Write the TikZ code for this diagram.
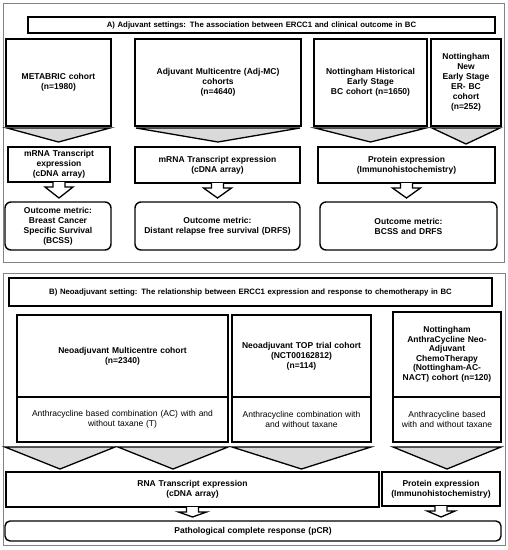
\documentclass[tikz,border=0pt]{standalone}
\usepackage{fontspec}
\setmainfont{Liberation Sans}
\usetikzlibrary{calc}
\definecolor{chevgray}{RGB}{218,218,218}
\definecolor{framegray}{RGB}{130,130,130}
\tikzset{
  box/.style={draw=black, line width=1.4pt, align=center, inner sep=1pt, outer sep=0pt,
    font=\fontsize{8.5}{10}\selectfont\bfseries},
  plain/.style={font=\fontsize{8.5}{10.5}\selectfont},
  titlefont/.style={font=\fontsize{7.8}{9}\selectfont\bfseries},
  rbox/.style={rounded corners=6pt},
  frame/.style={draw=framegray, line width=1pt},
  chev/.style={draw=black, fill=chevgray, line width=1.3pt, line join=miter},
  barrow/.style={draw=black, fill=white, line width=1.3pt, line join=miter}
}
\newcommand\bx[7][]{%
  \pgfmathsetmacro\bxcx{(#3+#5)/2}%
  \pgfmathsetmacro\bxcy{(#4+#6)/2}%
  \pgfmathsetmacro\bxw{#5-#3}%
  \pgfmathsetmacro\bxh{#6-#4}%
  \pgfmathsetmacro\bxtw{#5-#3-4}%
  \node[box,minimum width=\bxw pt,minimum height=\bxh pt,text width=\bxtw pt,#1] (#2) at (\bxcx,\bxcy) {#7};}
% chevron under node #2, tip pointing to node #3
\newcommand\chevron[3][5pt]{%
  \draw[chev] let \p1=(#2.south west), \p2=(#2.south east), \p3=(#3.north) in
    (\x1+1pt,\y1-2pt) -- (\x2-1pt,\y1-2pt) -- ({(\x1+\x2)/2},\y3+#1) -- cycle;}
% block arrow from node #1 to node #2
\newcommand\blockarrow[2]{%
  \draw[barrow] let \p1=(#1.south), \p2=(#2.north) in
    (\x1-6pt,\y1) -- (\x1-6pt,\y1-5pt) -- (\x1-14pt,\y1-5pt) -- (\x1,\y2+4pt)
      -- (\x1+14pt,\y1-5pt) -- (\x1+6pt,\y1-5pt) -- (\x1+6pt,\y1);}
\begin{document}
\begin{tikzpicture}[x=1pt,y=-1pt]
\useasboundingbox (0,0) rectangle (508,550);
% ---------- Section A ----------
\node[frame, minimum width=501pt, minimum height=259pt, inner sep=0pt] (frameA) at (253.5,132.5) {};
\bx[line width=1.2pt,titlefont]{titleA}{28}{17}{495}{33}{A) Adjuvant settings: The association between ERCC1 and clinical outcome in BC}
\bx{a1}{6}{39}{111}{126}{METABRIC cohort\\(n=1980)}
\bx{a2}{135}{39}{301}{126}{Adjuvant Multicentre (Adj-MC)\\cohorts\\(n=4640)}
\bx{a3}{314}{39}{427}{126}{Nottingham Historical\\Early Stage\\BC cohort (n=1650)}
\bx{a4}{431}{39}{501}{126}{Nottingham\\New\\Early Stage\\ER- BC\\cohort\\(n=252)}
\bx{m1}{8}{147}{110}{182}{mRNA Transcript\\expression\\(cDNA array)}
\bx{m2}{135}{147}{300}{183}{mRNA Transcript expression\\(cDNA array)\\[3pt]}
\bx{m3}{318}{147}{495}{183}{Protein expression\\(Immunohistochemistry)\\[3pt]}
\bx[rbox]{o1}{5}{202}{111}{250}{Outcome metric:\\Breast Cancer\\Specific Survival\\(BCSS)}
\bx[rbox]{o2}{135}{202}{300}{250}{Outcome metric:\\Distant relapse free survival (DRFS)}
\bx[rbox]{o3}{320}{202}{497}{250}{Outcome metric:\\BCSS and DRFS}
\chevron{a1}{m1}
\chevron{a2}{m2}
\chevron{a3}{m3}
\chevron[3pt]{a4}{m3}
\blockarrow{m1}{o1}
\blockarrow{m2}{o2}
\blockarrow{m3}{o3}
% ---------- Section B ----------
\node[frame, minimum width=502pt, minimum height=272pt, inner sep=0pt] (frameB) at (254,409) {};
\bx[line width=1.6pt,titlefont]{titleB}{9}{278}{492}{306}{B) Neoadjuvant setting: The relationship between ERCC1 expression and response to chemotherapy in BC}
\bx{b1t}{17}{315}{228}{397}{Neoadjuvant Multicentre cohort\\(n=2340)}
\bx[plain]{b1b}{17}{397}{228}{442}{Anthracycline based combination (AC) with and\\without taxane (T)}
\bx{b2t}{232}{315}{371}{397}{Neoadjuvant TOP trial cohort\\(NCT00162812)\\(n=114)\\[8pt]}
\bx[plain]{b2b}{232}{397}{371}{442}{Anthracycline combination with\\and without taxane}
\bx[font=\fontsize{8.5}{9.5}\selectfont\bfseries]{b3t}{393}{312}{501}{397}{Nottingham\\AnthraCycline Neo-\\Adjuvant\\ChemoTherapy\\(Nottingham-AC-\\NACT) cohort (n=120)}
\bx[plain]{b3b}{393}{397}{501}{442}{Anthracycline based\\with and without taxane}
\bx{rna}{6}{472}{379}{507}{RNA Transcript expression\\(cDNA array)}
\bx{protB}{382}{472}{500}{506}{Protein expression\\(Immunohistochemistry)}
\bx[rbox,rounded corners=5pt]{pcr}{5}{521}{501}{541}{Pathological complete response (pCR)}
% chevrons B
\draw[chev] let \p1=(b1b.south west), \p3=(rna.north) in
  (\x1-12pt,\y1-5pt) -- (\x1+98pt,\y1-5pt) -- (\x1+43pt,\y3+3pt) -- cycle;
\draw[chev] let \p1=(b1b.south east), \p3=(rna.north) in
  (\x1-110pt,\y1-5pt) -- (\x1,\y1-5pt) -- (\x1-55pt,\y3+3pt) -- cycle;
\draw[chev] let \p1=(b2b.south west), \p2=(b2b.south east), \p3=(rna.north) in
  (\x1,\y1-5pt) -- (\x2,\y1-5pt) -- ({(\x1+\x2)/2},\y3+3pt) -- cycle;
\draw[chev] let \p1=(b3b.south west), \p2=(b3b.south east), \p3=(protB.north) in
  (\x1,\y1-5pt) -- (\x2,\y1-5pt) -- ({(\x1+\x2)/2},\y3+3pt) -- cycle;
\blockarrow{rna}{pcr}
\blockarrow{protB}{pcr}
\end{tikzpicture}
\end{document}
